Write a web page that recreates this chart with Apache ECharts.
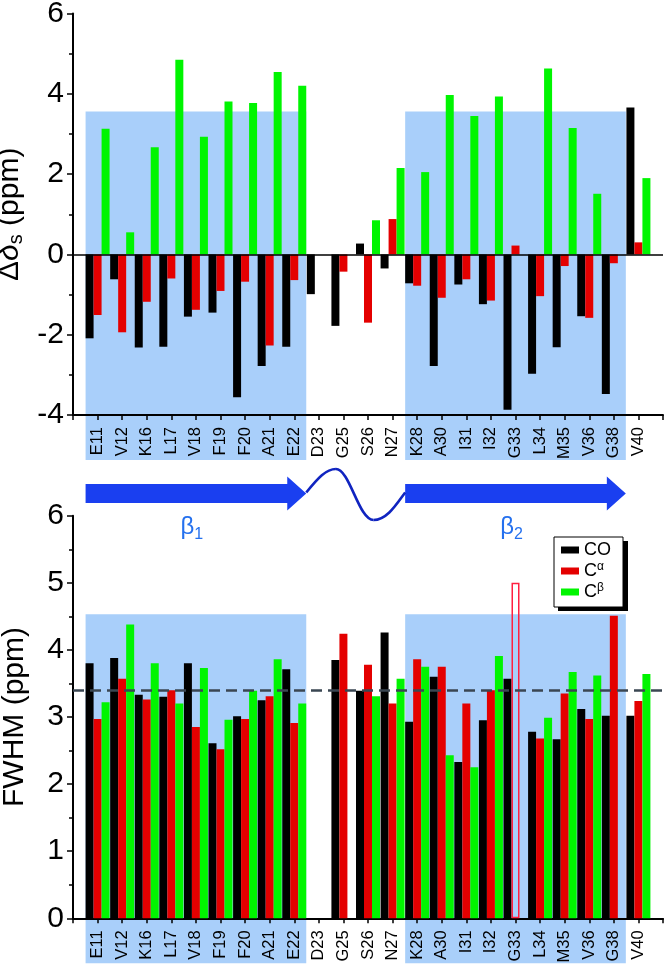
<!DOCTYPE html>
<html>
<head>
<meta charset="utf-8">
<script src="https://cdn.jsdelivr.net/npm/echarts@6/dist/echarts.min.js"></script>
<style>
html,body{margin:0;padding:0;background:#fff;}
#c{width:666px;height:966px;}
</style>
</head>
<body>
<div id="c"></div>
<script>
// ---- data ----
const categories = ['E11','V12','K16','L17','V18','F19','F20','A21','E22','D23','G25','S26','N27','K28','A30','I31','I32','G33','L34','M35','V36','G38','V40'];
const shiftCO = [-2.09,-0.62,-2.32,-2.30,-1.55,-1.45,-3.56,-2.78,-2.30,-0.99,-1.78,0.27,-0.35,-0.72,-2.78,-0.75,-1.24,-3.87,-2.97,-2.31,-1.54,-3.48,3.66];
const shiftCA = [-1.51,-1.94,-1.18,-0.60,-1.38,-0.91,-0.68,-2.27,-0.64,null,-0.43,-1.70,0.88,-0.78,-1.08,-0.62,-1.15,0.22,-1.04,-0.29,-1.58,-0.22,0.30];
const shiftCB = [3.13,0.55,2.67,4.85,2.93,3.81,3.77,4.54,4.20,null,null,0.85,2.15,2.05,3.97,3.45,3.93,null,4.63,3.15,1.51,null,1.90];
const fwhmCO = [3.80,3.88,3.33,3.30,3.80,2.61,3.01,3.25,3.71,null,3.85,3.39,4.26,2.93,3.60,2.33,2.95,3.57,2.78,2.67,3.12,3.02,3.02];
const fwhmCA = [2.97,3.57,3.26,3.40,2.85,2.52,2.97,3.31,2.91,null,4.24,3.78,3.20,3.86,3.75,3.20,3.40,5.00,2.68,3.35,2.97,4.51,3.24];
const fwhmCB = [3.22,4.38,3.80,3.20,3.73,2.96,3.39,3.86,3.20,null,null,3.31,3.57,3.75,2.43,2.25,3.91,null,2.99,3.67,3.62,null,3.64];
const hollowCA = ['G33'];          // Cα FWHM bar drawn as outline only
const fwhmMean = 3.40;             // dashed reference line
const shiftTicks = [-4, 6, 2];     // min, max, interval
const fwhmTicks = [0, 6, 1];
const strandStart = ['E11','K28'];
const strandEnd = ['E22','G38'];
const strandLabels = ['1','2'];
const shadeTop = [3.56, 4.53];     // top of shaded strand regions per panel
const seriesNames = ['CO','Cα','Cβ'];

// ---- style ----
const FONT = '"Liberation Sans", Arial, sans-serif';
const COLORS = ['#000000','#e40000','#00f500'];
const SHADE = '#a9cffa';
const cats = [''].concat(categories, ['']);
const pad = arr => ['-'].concat(arr.map(v => v === null ? '-' : v), ['-']);

function xAx(gi){
  return {
    type:'category', gridIndex:gi, data:cats, boundaryGap:false,
    axisLine:{onZero:false, lineStyle:{color:'#000', width:2}},
    axisTick:{show:true, interval:0, length:5, lineStyle:{color:'#000', width:1.5}},
    axisLabel:{interval:0, rotate:90, fontSize:16.5, fontFamily:FONT, color:'#000', margin:12},
    splitLine:{show:false}
  };
}
function yAx(gi, t, name, gap){
  return {
    type:'value', gridIndex:gi, min:t[0], max:t[1], interval:t[2],
    axisLine:{show:true, onZero:false, lineStyle:{color:'#000', width:2}},
    axisTick:{show:true, length:6, lineStyle:{color:'#000', width:1.5}},
    minorTick:{show:true, splitNumber:2, length:4, lineStyle:{color:'#000', width:1.5}},
    axisLabel:{fontSize:30, fontFamily:FONT, color:'#000', margin:9},
    splitLine:{show:false},
    name:name, nameLocation:'middle', nameRotate:90, nameGap:gap,
    nameTextStyle:{fontSize:30, fontFamily:FONT, color:'#000',
      rich:{
        a:{fontSize:30, fontFamily:FONT, color:'#000'},
        d:{fontSize:30, fontFamily:FONT, fontStyle:'italic', color:'#000'},
        s:{fontSize:20, fontFamily:FONT, color:'#000', verticalAlign:'top', padding:[14,0,0,0]}
      }}
  };
}
function bar(gi, k, arr, extra){
  const data = pad(arr).map((v, i) => {
    if (gi === 1 && k === 1 && hollowCA.indexOf(cats[i]) >= 0 && v !== '-') {
      return {value:v, itemStyle:{color:'rgba(0,0,0,0)', borderColor:'#ff2040', borderWidth:1.5}};
    }
    return v;
  });
  return Object.assign({
    type:'bar', name:seriesNames[k], xAxisIndex:gi, yAxisIndex:gi, data:data,
    barWidth:8, barGap:'0%', itemStyle:{color:COLORS[k]}, silent:true, animation:false
  }, extra || {});
}

const chart = echarts.init(document.getElementById('c'), null, {renderer:'canvas'});
chart.setOption({
  animation:false,
  grid:[
    {left:73, right:3, top:13.5, height:401.5, containLabel:false, outerBoundsMode:'none'},
    {left:73, right:3, top:515.7, height:402.6, containLabel:false, outerBoundsMode:'none'}
  ],
  xAxis:[xAx(0), xAx(1)],
  yAxis:[
    yAx(0, shiftTicks, '{a|Δ}{d|δ}{s|s}{a| (ppm)}', 35),
    yAx(1, fwhmTicks, 'FWHM (ppm)', 43)
  ],
  legend:{
    data:seriesNames, orient:'vertical', left:554, top:537, z:10,
    itemWidth:18, itemHeight:7, itemGap:1, selectedMode:false,
    padding:[3,12,5,7], borderColor:'#000', borderWidth:1, backgroundColor:'#fff',
    icon:'rect',
    textStyle:{fontSize:18, fontFamily:FONT, color:'#000', lineHeight:20,
      rich:{sup:{fontSize:12, fontFamily:FONT, color:'#000', verticalAlign:'top', lineHeight:14}}},
    formatter: n => n === 'CO' ? 'CO' : 'C{sup|' + n.slice(1) + '}'
  },
  series:[
    bar(0,0,shiftCO,{markLine:{silent:true, symbol:'none', label:{show:false}, animation:false,
      lineStyle:{color:'#000', width:1.5, type:'solid'}, data:[{yAxis:0}]}}),
    bar(0,1,shiftCA),
    bar(0,2,shiftCB),
    bar(1,0,fwhmCO,{markLine:{silent:true, symbol:'none', label:{show:false}, animation:false, z:10,
      lineStyle:{color:'#3a4652', width:2.5, type:[11,6]}, data:[{yAxis:fwhmMean}]}}),
    bar(1,1,fwhmCA),
    bar(1,2,fwhmCB)
  ]
});

// ---- decorations positioned through the axes ----
function px(gi, cat, val){
  return chart.convertToPixel({xAxisIndex:gi, yAxisIndex:gi}, [cats.indexOf(cat), val]);
}
const half = 12;
const graphics = [];
const ticksArr = [shiftTicks, fwhmTicks];
const strandPx = [];
for (let gi = 0; gi < 2; gi++) {
  for (let r = 0; r < strandStart.length; r++) {
    const a = px(gi, strandStart[r], shadeTop[gi]);
    const b = px(gi, strandEnd[r], ticksArr[gi][0]);
    const x0 = a[0] - half, x1 = b[0] + half;
    if (gi === 0) strandPx.push([x0, x1]);
    graphics.push({type:'rect', z:-10, silent:true,
      shape:{x:x0, y:a[1], width:x1 - x0, height:(b[1] + 45) - a[1]},
      style:{fill:SHADE}});
  }
}
// legend drop shadow
graphics.push({type:'rect', z:5, silent:true, shape:{x:558, y:541, width:70, height:70}, style:{fill:'#000'}});
// arrows for strands
const ay0 = 484, ay1 = 503, ayc = 493.5, headL = 19, headH = 17;
strandPx.forEach((s, r) => {
  const x0 = s[0], x1 = s[1];
  graphics.push({type:'polygon', silent:true,
    shape:{points:[[x0,ay0],[x1-headL,ay0],[x1-headL,ayc-headH],[x1,ayc],[x1-headL,ayc+headH],[x1-headL,ay1],[x0,ay1]]},
    style:{fill:'#1a3ff0'}});
  graphics.push({type:'text', silent:true,
    style:{x:(x0 + x1) / 2 - 4, y:527, text:'β{sub|' + strandLabels[r] + '}', align:'center', verticalAlign:'middle',
      fill:'#2470ee', font:'24px ' + FONT,
      rich:{sub:{fontSize:16, fontFamily:FONT, fill:'#2470ee', verticalAlign:'top', padding:[16,0,0,0]}}}});
});
// loop wave between strands
(function(){
  const L = strandPx[0][1], R = strandPx[1][0], w = R - L;
  const lw = {stroke:'#1024c0', lineWidth:2.6, fill:null};
  graphics.push({type:'bezierCurve', silent:true, shape:{x1:L, y1:ayc - 1, cpx1:L + 0.12*w, cpy1:478, cpx2:L + 0.2*w, cpy2:469, x2:L + 0.3*w, y2:469}, style:lw});
  graphics.push({type:'bezierCurve', silent:true, shape:{x1:L + 0.3*w, y1:469, cpx1:L + 0.44*w, cpy1:469, cpx2:L + 0.53*w, cpy2:520, x2:L + 0.68*w, y2:520}, style:lw});
  graphics.push({type:'bezierCurve', silent:true, shape:{x1:L + 0.68*w, y1:520, cpx1:L + 0.82*w, cpy1:520, cpx2:L + 0.92*w, cpy2:503, x2:R, y2:ayc - 1}, style:lw});
})();
chart.setOption({graphic:graphics});
</script>
</body>
</html>
